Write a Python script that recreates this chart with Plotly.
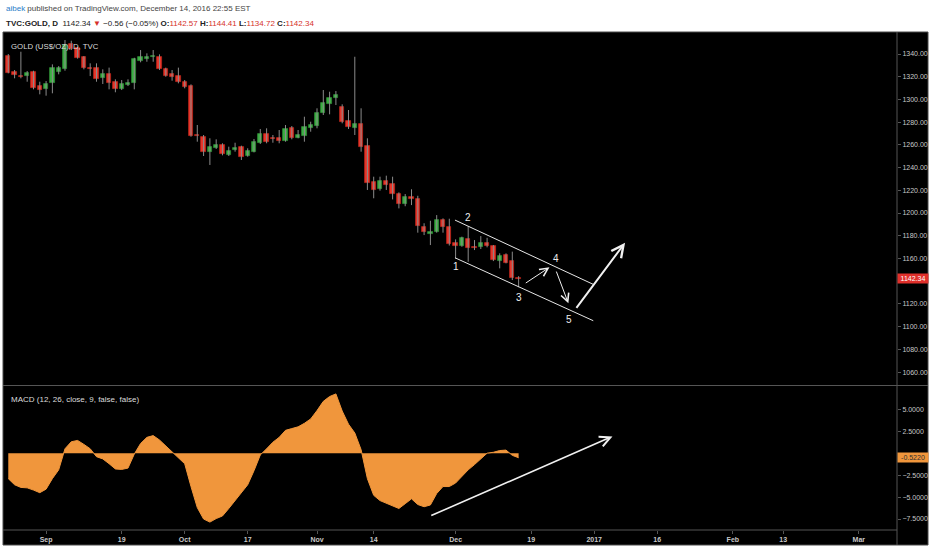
import plotly.graph_objects as go

# ---------------- data ----------------
opens = [1338.2, 1323.9, 1320.9, 1320.9, 1324.0, 1311.8, 1308.9, 1314.2, 1324.4, 1326.5,
         1348.5, 1345.0, 1337.6, 1328.0, 1328.0, 1318.6, 1322.1, 1315.1, 1309.2, 1312.7,
         1314.2, 1333.8, 1336.0, 1337.1, 1337.1, 1326.8, 1322.4, 1320.6, 1315.6, 1312.1,
         1268.5, 1266.6, 1254.0, 1257.0, 1259.9, 1251.1, 1255.5, 1257.9, 1250.5, 1254.0,
         1261.9, 1269.6, 1266.3, 1265.8, 1263.7, 1274.6, 1266.4, 1267.8, 1275.1, 1276.6,
         1287.8, 1296.0, 1301.5, 1293.6, 1281.3, 1274.6, 1278.1, 1259.0, 1227.0, 1220.9,
         1228.2, 1225.3, 1216.7, 1207.9, 1214.4, 1212.0, 1187.4, 1181.2, 1183.5, 1193.8,
         1187.8, 1173.9, 1171.0, 1176.8, 1170.3, 1169.8, 1173.9, 1171.0, 1157.7, 1163.0,
         1158.0, 1142.57]
highs = [1340.0, 1325.9, 1342.0, 1325.0, 1325.3, 1315.6, 1316.2, 1330.9, 1329.4, 1352.3,
         1351.7, 1346.4, 1338.2, 1331.8, 1331.8, 1326.5, 1328.0, 1317.7, 1317.1, 1317.7,
         1336.7, 1343.5, 1340.6, 1343.5, 1339.7, 1328.0, 1325.9, 1328.0, 1317.1, 1313.3,
         1277.5, 1268.7, 1265.8, 1264.9, 1261.4, 1258.4, 1261.9, 1259.3, 1257.0, 1265.2,
         1274.0, 1274.6, 1268.7, 1273.1, 1277.5, 1276.6, 1273.1, 1284.8, 1280.4, 1292.2,
         1308.3, 1306.8, 1307.4, 1295.7, 1290.7, 1337.6, 1292.2, 1265.8, 1232.0, 1232.0,
         1232.9, 1232.0, 1218.2, 1216.7, 1220.9, 1215.2, 1191.0, 1193.2, 1198.2, 1195.3,
         1195.0, 1176.8, 1179.2, 1188.5, 1176.2, 1179.7, 1178.2, 1171.8, 1164.5, 1164.5,
         1166.0, 1144.41]
lows = [1323.0, 1318.6, 1318.6, 1315.6, 1308.9, 1304.5, 1303.3, 1305.4, 1322.1, 1325.3,
        1343.5, 1335.9, 1326.5, 1320.6, 1315.6, 1313.6, 1308.9, 1306.3, 1308.3, 1311.8,
        1308.9, 1332.7, 1333.2, 1333.2, 1325.9, 1320.0, 1316.5, 1314.2, 1309.8, 1267.2,
        1262.8, 1250.2, 1242.3, 1256.4, 1250.8, 1250.2, 1254.0, 1246.7, 1249.6, 1253.4,
        1260.8, 1261.4, 1261.9, 1261.4, 1262.8, 1264.9, 1265.8, 1262.8, 1271.6, 1274.6,
        1286.3, 1286.9, 1295.1, 1279.0, 1274.0, 1268.7, 1254.0, 1220.3, 1213.0, 1219.7,
        1220.3, 1212.0, 1204.1, 1206.0, 1207.0, 1182.7, 1180.6, 1171.8, 1182.7, 1182.7,
        1171.4, 1160.0, 1170.3, 1157.1, 1167.4, 1168.3, 1169.8, 1157.7, 1151.3, 1155.7,
        1141.0, 1134.72]
closes = [1323.5, 1321.5, 1320.0, 1323.0, 1309.8, 1308.3, 1313.3, 1327.4, 1327.4, 1347.9,
          1344.1, 1336.7, 1327.4, 1326.8, 1317.7, 1322.4, 1314.2, 1308.9, 1313.3, 1314.8,
          1335.6, 1337.1, 1337.1, 1338.0, 1326.8, 1320.9, 1320.0, 1315.1, 1311.2, 1267.8,
          1267.6, 1254.0, 1257.9, 1259.9, 1251.7, 1254.9, 1257.5, 1249.6, 1254.9, 1262.2,
          1269.3, 1262.2, 1265.5, 1263.7, 1274.0, 1265.8, 1268.7, 1276.0, 1277.5, 1288.3,
          1297.2, 1301.5, 1303.9, 1280.4, 1275.5, 1278.1, 1258.4, 1226.7, 1220.3, 1228.4,
          1224.7, 1216.7, 1207.9, 1214.4, 1212.0, 1188.5, 1183.5, 1183.5, 1193.8, 1187.9,
          1172.7, 1171.1, 1177.7, 1169.5, 1169.5, 1173.9, 1171.0, 1158.6, 1162.1, 1156.2,
          1142.9, 1142.34]
macd = [-2.9, -3.6, -3.9, -3.95, -4.2, -4.5, -4.1, -2.9, -1.9, 0.5,
        1.3, 1.45, 1.0, 0.5, -0.4, -0.65, -1.2, -1.8, -1.85, -1.7,
        -0.1, 1.1, 1.8, 2.0, 1.5, 0.8, 0.1, -0.5, -1.2, -3.8,
        -6.2, -7.5, -7.85, -7.45, -7.15, -6.3, -5.4, -4.6, -3.6, -2.0,
        -0.2, 0.5, 1.25, 1.8, 2.6, 2.8, 3.0, 3.4, 3.9, 4.85,
        5.9, 6.45, 6.75, 4.8, 3.3, 2.3, 0.4, -2.9, -4.8, -5.4,
        -5.7, -6.05, -6.3, -5.75, -5.2, -5.85, -6.1, -5.9, -4.6, -3.8,
        -3.8, -3.4, -2.6, -1.9, -1.3, -0.6, 0.0, 0.1, 0.3, 0.35,
        -0.25, -0.522]

tick_index = [6, 18, 28, 38, 49, 58, 71, 83, 93, 103, 115, 123, 135]
tick_labels = ["Sep", "19", "Oct", "17", "Nov", "14", "Dec", "19", "2017", "16", "Feb", "13", "Mar"]
price_ticks = [1060, 1080, 1100, 1120, 1160, 1180, 1200, 1220, 1240, 1260, 1280, 1300, 1320, 1340]
macd_ticks = [-7.5, -5.0, -2.5, 2.5, 5.0]

# drawings (bar index, price)
channel_upper = [(70.9, 1193.8), (92.85, 1137.2)]
channel_lower = [(70.9, 1160.6), (92.85, 1105.2)]
wave_labels = [("1", 71.0, 1152.7), ("2", 73.0, 1196.2), ("3", 81.0, 1125.8),
               ("4", 86.9, 1160.1), ("5", 89.0, 1106.4)]
price_arrows = [((81.9, 1137.5), (85.9, 1152.2), 1.0),
                ((86.9, 1149.8), (88.9, 1120.5), 1.0),
                ((90.0, 1115.2), (97.9, 1173.9), 2.0)]
macd_arrow = ((66.9, -7.18), (95.9, 1.91))

# ---------------- figure ----------------
W, H = 932, 550
def px_x(p): return p / W
def px_y(p): return 1 - p / H

FONT = "Liberation Sans, Arial, sans-serif"
idx = list(range(len(closes)))
UP, DN = "#3cb043", "#e8372b"
UP_L, DN_L = "#2e8a34", "#b8261c"
col = [UP if c >= o else DN for o, c in zip(opens, closes)]
lcol = [UP_L if c >= o else DN_L for o, c in zip(opens, closes)]
base = [min(o, c) for o, c in zip(opens, closes)]
height = [max(abs(c - o), 0.6) for o, c in zip(opens, closes)]

wx, wy = [], []
for i, l, h in zip(idx, lows, highs):
    wx += [i, i, None]
    wy += [l, h, None]

fig = go.Figure()
fig.add_trace(go.Scatter(x=wx, y=wy, mode="lines", line=dict(color="#8a8a8a", width=1),
                         hoverinfo="skip", showlegend=False, xaxis="x", yaxis="y"))
fig.add_trace(go.Bar(x=idx, y=height, base=base, width=0.68,
                     marker=dict(color=col, line=dict(color=lcol, width=0.8)),
                     showlegend=False, xaxis="x", yaxis="y"))
fig.add_trace(go.Scatter(x=idx, y=macd, mode="lines", fill="tozeroy",
                         fillcolor="#f0963c", line=dict(color="#f0963c", width=1),
                         showlegend=False, xaxis="x", yaxis="y2"))

axis_font = dict(family=FONT, size=7, color="#c8c8c8")
xaxis_font = dict(family=FONT, size=7, color="#c8c8c8", weight="bold")
grey = "#555555"

fig.update_layout(
    width=W, height=H, autosize=False,
    margin=dict(l=0, r=0, t=0, b=0),
    paper_bgcolor="white", plot_bgcolor="black",
    bargap=0, showlegend=False,
    xaxis=dict(domain=[px_x(4), px_x(897)], range=[-0.68, 141.06], anchor="y2",
               tickvals=tick_index, ticktext=tick_labels, tickfont=xaxis_font,
               ticks="outside", ticklen=3, tickcolor=grey, showgrid=False,
               zeroline=False, showline=False),
    yaxis=dict(domain=[px_y(385), px_y(33)], range=[1048.6, 1358.5], side="right",
               anchor="x", tickvals=price_ticks, tickformat=".2f", tickfont=axis_font,
               ticks="outside", ticklen=3, tickcolor=grey, showgrid=False,
               zeroline=False, showline=False),
    yaxis2=dict(domain=[px_y(530), px_y(386)], range=[-8.75, 7.65], side="right",
                anchor="x", tickvals=macd_ticks, tickformat=".4f", tickfont=axis_font,
                ticks="outside", ticklen=3, tickcolor=grey, showgrid=False,
                zeroline=False, showline=False),
)

shapes = [
    dict(type="rect", xref="paper", yref="paper", x0=px_x(3), x1=px_x(928),
         y0=px_y(545), y1=px_y(32), fillcolor="black", line=dict(color="#4a4a4a", width=1),
         layer="below"),
    dict(type="line", xref="paper", yref="paper", x0=px_x(3), x1=px_x(928),
         y0=px_y(385.5), y1=px_y(385.5), line=dict(color=grey, width=1)),
    dict(type="line", xref="paper", yref="paper", x0=px_x(897), x1=px_x(897),
         y0=px_y(545), y1=px_y(32), line=dict(color=grey, width=1)),
    dict(type="line", xref="paper", yref="paper", x0=px_x(3), x1=px_x(897),
         y0=px_y(530), y1=px_y(530), line=dict(color=grey, width=1)),
]
for seg in (channel_upper, channel_lower):
    shapes.append(dict(type="line", xref="x", yref="y", x0=seg[0][0], y0=seg[0][1],
                       x1=seg[1][0], y1=seg[1][1], line=dict(color="#e6e6e6", width=1)))
fig.update_layout(shapes=shapes)

ann = []
for t, xi, yi in wave_labels:
    ann.append(dict(text=t, x=xi, y=yi, xref="x", yref="y", showarrow=False,
                    font=dict(family=FONT, size=10, color="#eeeeee")))
for (x0, y0), (x1, y1), w in price_arrows:
    ann.append(dict(text="", x=x1, y=y1, ax=x0, ay=y0, xref="x", yref="y",
                    axref="x", ayref="y", showarrow=True, arrowhead=5,
                    arrowsize=1.6 if w < 1.5 else 1.2, arrowwidth=w, arrowcolor="#f0f0f0"))
(mx0, my0), (mx1, my1) = macd_arrow
ann.append(dict(text="", x=mx1, y=my1, ax=mx0, ay=my0, xref="x", yref="y2",
                axref="x", ayref="y2", showarrow=True, arrowhead=5, arrowsize=1.3,
                arrowwidth=1.6, arrowcolor="#f0f0f0"))
# last value tags
ann.append(dict(text=f"{closes[-1]:.2f}", xref="paper", x=px_x(897), xanchor="left",
                y=closes[-1], yref="y", showarrow=False, bgcolor="#e0302b",
                font=dict(family=FONT, size=7, color="white"),
                borderpad=1, width=28))
ann.append(dict(text=f"{macd[-1]:.4f}", xref="paper", x=px_x(897), xanchor="left",
                y=macd[-1], yref="y2", showarrow=False, bgcolor="#f0963c",
                font=dict(family=FONT, size=7, color="#303030"),
                borderpad=1, width=28))
# pane titles
ann.append(dict(text="GOLD (US$/OZ), D, TVC", xref="paper", yref="paper", x=px_x(9),
                y=px_y(46.5), xanchor="left", yanchor="middle", showarrow=False,
                font=dict(family=FONT, size=7.8, color="#dcdcdc")))
ann.append(dict(text="MACD (12, 26, close, 9, false, false)", xref="paper", yref="paper",
                x=px_x(9), y=px_y(399), xanchor="left", yanchor="middle", showarrow=False,
                font=dict(family=FONT, size=8, color="#dcdcdc")))
# header
ann.append(dict(text='<span style="color:#2a7dc9">aibek</span> published on TradingView.com, December 14, 2016 22:55 EST',
                xref="paper", yref="paper", x=px_x(4), y=px_y(8.5), xanchor="left",
                yanchor="middle", showarrow=False,
                font=dict(family=FONT, size=8, color="#444444")))
red = "#d6312b"
chg = closes[-1] - closes[-2]
pct = chg / closes[-2] * 100
line2 = (f'<b>TVC:GOLD, D</b>  {closes[-1]:.2f} <span style="color:{red}">▼</span> '
         f'−{abs(chg):.2f} (−{abs(pct):.2f}%) '
         f'<b>O:</b><span style="color:{red}">{opens[-1]:.2f}</span> '
         f'<b>H:</b><span style="color:{red}">{highs[-1]:.2f}</span> '
         f'<b>L:</b><span style="color:{red}">{lows[-1]:.2f}</span> '
         f'<b>C:</b><span style="color:{red}">{closes[-1]:.2f}</span>')
ann.append(dict(text=line2, xref="paper", yref="paper", x=px_x(4), y=px_y(23),
                xanchor="left", yanchor="middle", showarrow=False,
                font=dict(family=FONT, size=8, color="#222222")))
fig.update_layout(annotations=ann)

fig.write_html("out.html", config={"displayModeBar": False},
               post_script="document.body.style.margin='0';document.body.style.overflow='hidden';")
